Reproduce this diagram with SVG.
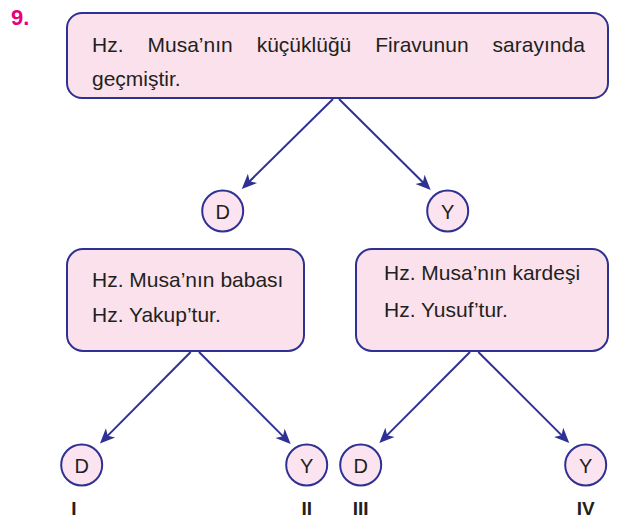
<svg xmlns="http://www.w3.org/2000/svg" width="621" height="520" viewBox="0 0 621 520">
<defs>
<style>
.box{fill:#fae1ec;stroke:#2e3192;stroke-width:2}
.circ{fill:#fbe4ef;stroke:#2e3192;stroke-width:2}
.t{font-family:"Liberation Sans",Arial,sans-serif;font-size:21px;fill:#231f20}
.c{font-family:"Liberation Sans",Arial,sans-serif;font-size:20px;fill:#231f20;text-anchor:middle}
.lab{font-family:"Liberation Sans",Arial,sans-serif;font-size:19px;font-weight:bold;fill:#231f20;text-anchor:middle}
.num{font-family:"Liberation Sans",Arial,sans-serif;font-size:22px;font-weight:bold;fill:#e6007e}
.ln{stroke:#2e3192;stroke-width:2;fill:none;marker-end:url(#ah)}
</style>
<marker id="ah" markerUnits="userSpaceOnUse" viewBox="-16 -8 17 16" refX="-10" refY="0" markerWidth="17" markerHeight="16" orient="auto">
<path d="M0,0 L-15,-6.5 L-11,0 L-15,6.5 Z" fill="#2e3192"/>
</marker>
</defs>
<rect width="621" height="520" fill="#ffffff"/>
<text class="num" x="11" y="25">9.</text>
<g id="top">
<rect class="box" x="67" y="13" width="541" height="85" rx="15"/>
<text class="t" y="52"><tspan x="92">Hz.</tspan><tspan x="147.5">Musa’nın</tspan><tspan x="256.7">küçüklüğü</tspan><tspan x="375.2">Firavunun</tspan><tspan x="492.6">sarayında</tspan></text>
<text class="t" x="92" y="86">geçmiştir.</text>
</g>
<g id="d1"><circle class="circ" cx="222.7" cy="211" r="20.5"/><text class="c" x="222.7" y="218.5">D</text></g>
<g id="y1"><circle class="circ" cx="447.7" cy="211" r="20.5"/><text class="c" x="447.7" y="218.5">Y</text></g>
<g id="left">
<rect class="box" x="67" y="249" width="237" height="102" rx="16"/>
<text class="t" x="92" y="287">Hz. Musa’nın babası</text>
<text class="t" x="92" y="322">Hz. Yakup’tur.</text>
</g>
<g id="right">
<rect class="box" x="356" y="249" width="252" height="102" rx="16"/>
<text class="t" x="384" y="280">Hz. Musa’nın kardeşi</text>
<text class="t" x="384" y="317">Hz. Yusuf’tur.</text>
</g>
<g id="d2"><circle class="circ" cx="81.7" cy="465" r="20.5"/><text class="c" x="81.7" y="472.5">D</text></g>
<g id="y2"><circle class="circ" cx="306.7" cy="465" r="20.5"/><text class="c" x="306.7" y="472.5">Y</text></g>
<g id="d3"><circle class="circ" cx="360.7" cy="465" r="20.5"/><text class="c" x="360.7" y="472.5">D</text></g>
<g id="y3"><circle class="circ" cx="585.7" cy="465" r="20.5"/><text class="c" x="585.7" y="472.5">Y</text></g>
<g id="labels">
<text class="lab" x="74" y="515">I</text>
<text class="lab" x="306.7" y="515">II</text>
<text class="lab" x="360.7" y="515">III</text>
<text class="lab" x="585.7" y="515">IV</text>
</g>
<g id="connectors">
<line class="ln" x1="333" y1="99" x2="248.9" y2="182"/>
<line class="ln" x1="339" y1="99" x2="423.6" y2="183"/>
<line class="ln" x1="190.7" y1="352" x2="107" y2="436.4"/>
<line class="ln" x1="199" y1="352" x2="283.6" y2="436.9"/>
<line class="ln" x1="470" y1="352" x2="386.4" y2="435.9"/>
<line class="ln" x1="478.3" y1="352" x2="562.2" y2="435.9"/>
</g>
</svg>
